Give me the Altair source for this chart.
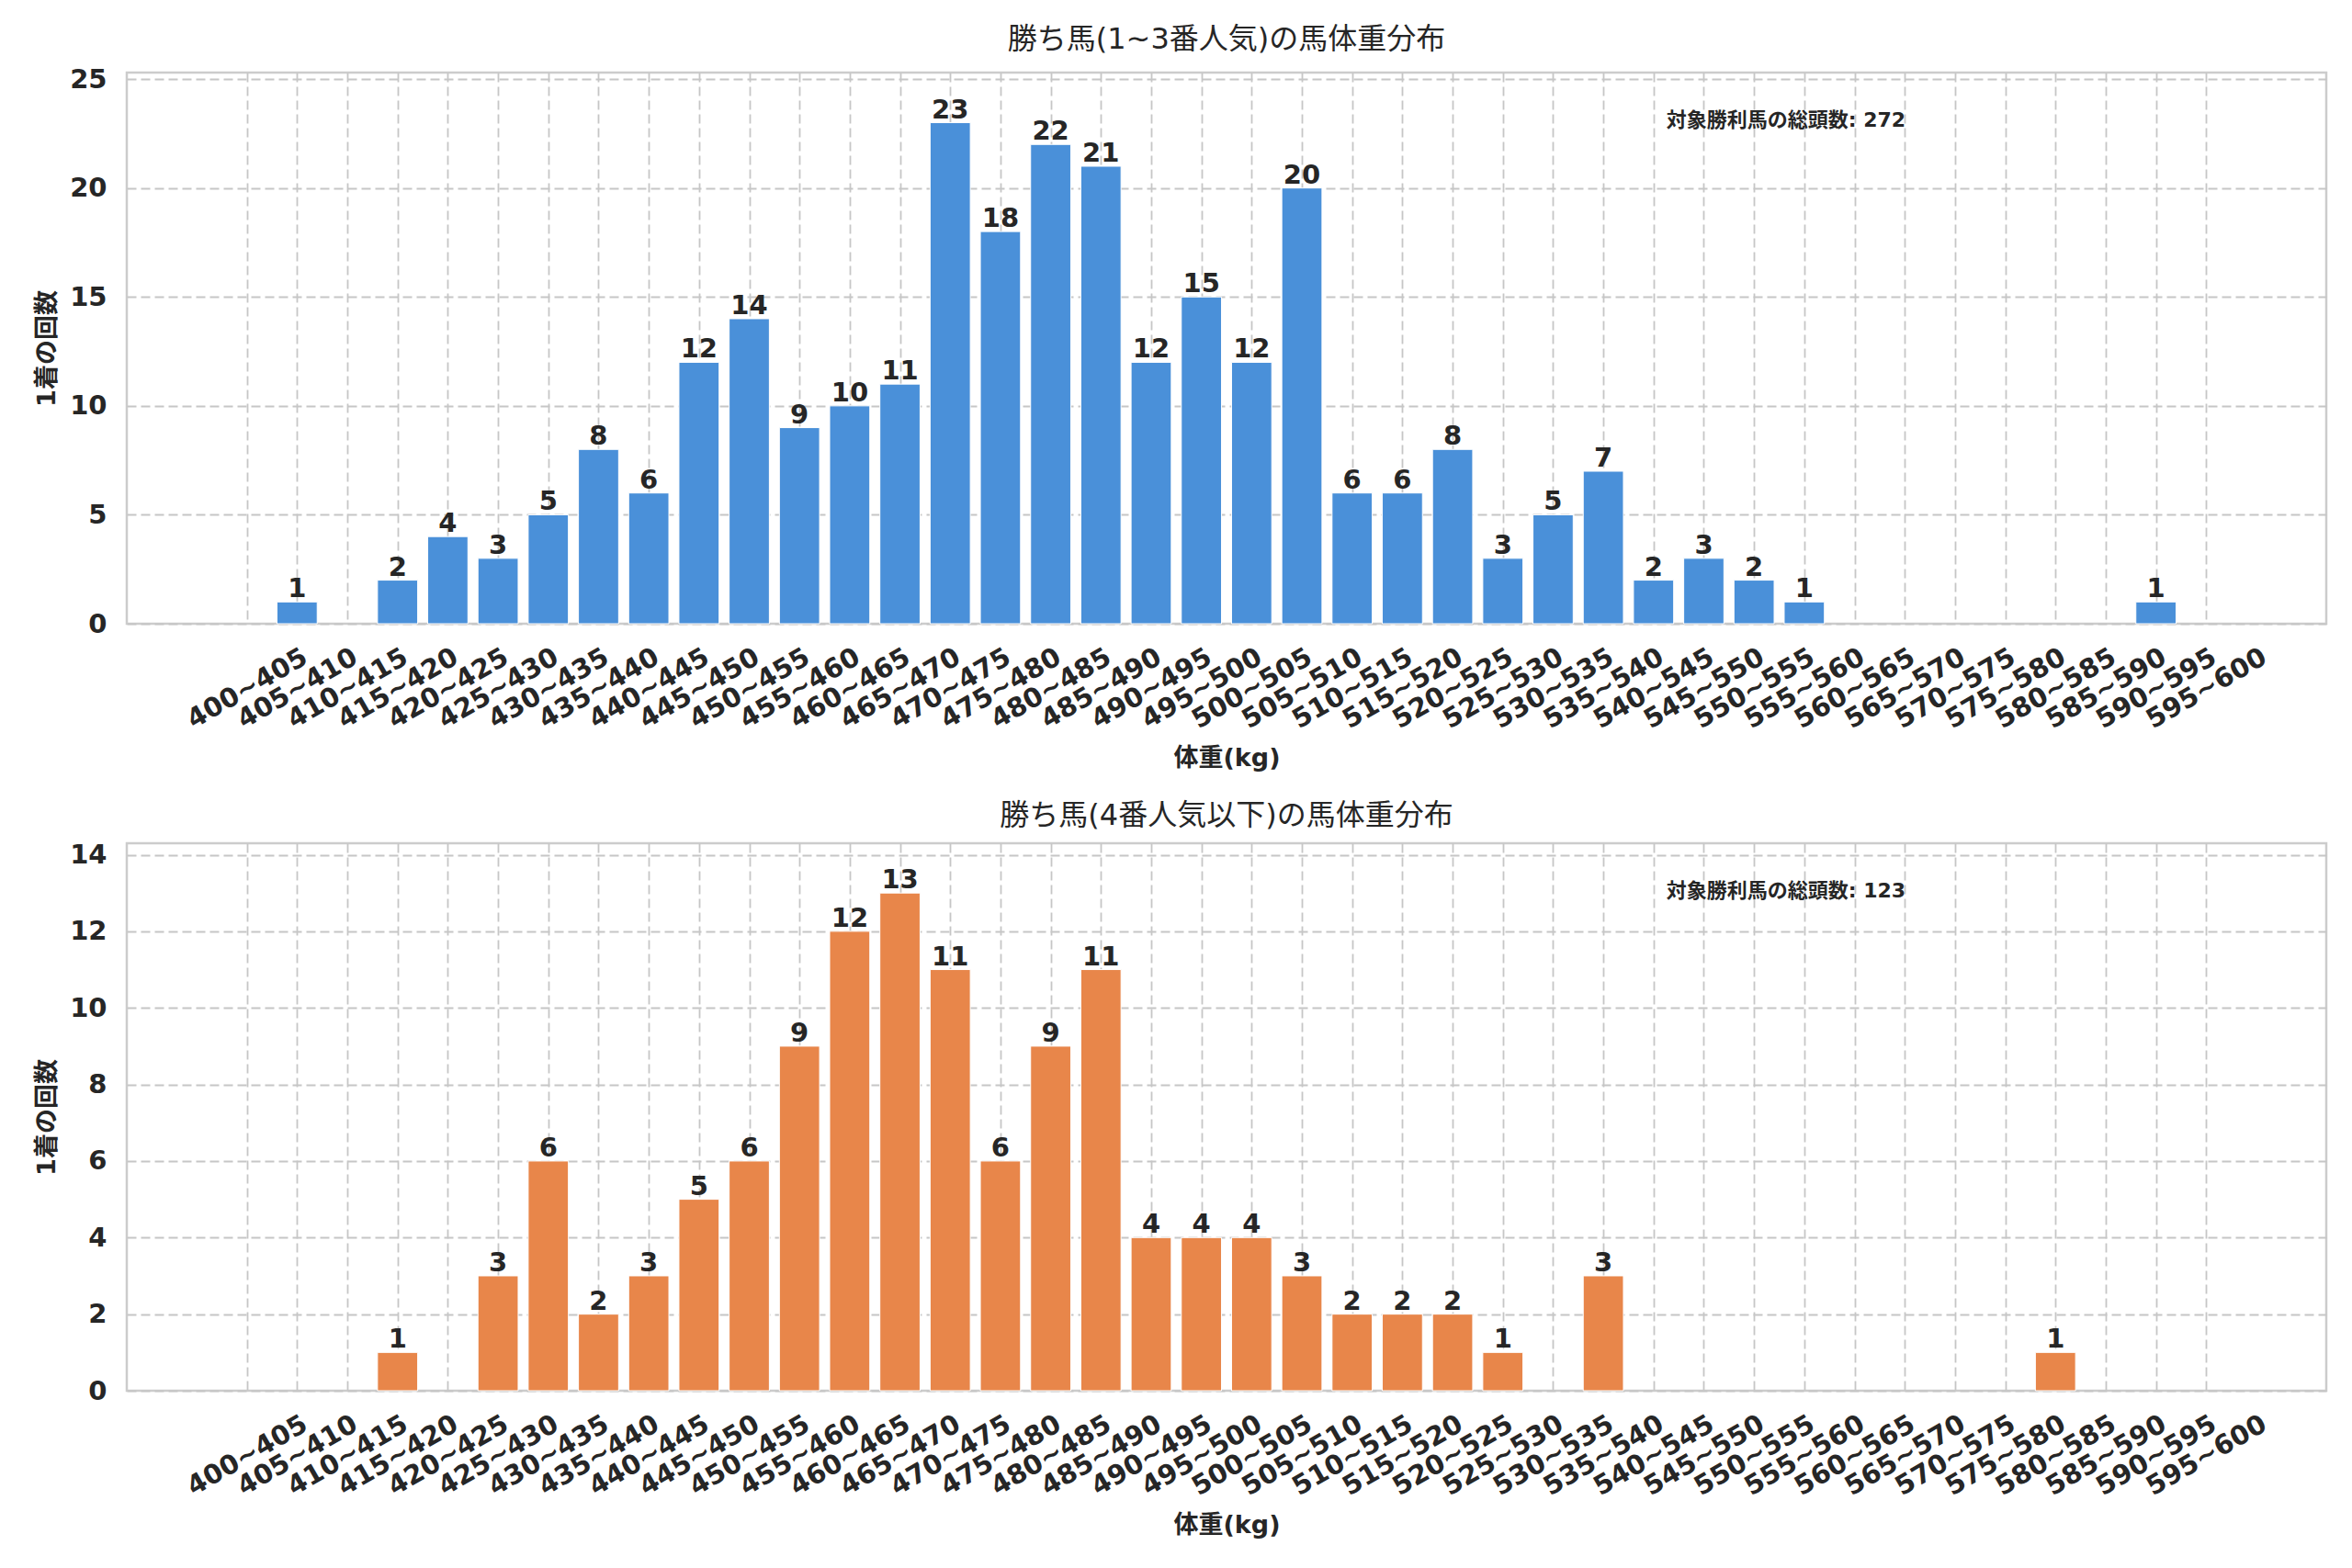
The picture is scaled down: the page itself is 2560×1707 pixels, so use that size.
import altair as alt
import pandas as pd

weight_bins = [
    "400~405", "405~410", "410~415", "415~420", "420~425", "425~430", "430~435", "435~440",
    "440~445", "445~450", "450~455", "455~460", "460~465", "465~470", "470~475", "475~480",
    "480~485", "485~490", "490~495", "495~500", "500~505", "505~510", "510~515", "515~520",
    "520~525", "525~530", "530~535", "535~540", "540~545", "545~550", "550~555", "555~560",
    "560~565", "565~570", "570~575", "575~580", "580~585", "585~590", "590~595", "595~600",
]
# 1~3番人気の勝ち馬
top_counts = [0, 1, 0, 2, 4, 3, 5, 8, 6, 12,
              14, 9, 10, 11, 23, 18, 22, 21, 12, 15,
              12, 20, 6, 6, 8, 3, 5, 7, 2, 3,
              2, 1, 0, 0, 0, 0, 0, 0, 1, 0]
# 4番人気以下の勝ち馬
bottom_counts = [0, 0, 0, 1, 0, 3, 6, 2, 3, 5,
                 6, 9, 12, 13, 11, 6, 9, 11, 4, 4,
                 4, 3, 2, 2, 2, 1, 0, 3, 0, 0,
                 0, 0, 0, 0, 0, 0, 1, 0, 0, 0]

top_title = "勝ち馬(1~3番人気)の馬体重分布"
bottom_title = "勝ち馬(4番人気以下)の馬体重分布"
x_title = "体重(kg)"
y_title = "1着の回数"
total_label = "対象勝利馬の総頭数"

FONT = "DejaVu Sans, Noto Sans CJK JP"
TEXT = "#262626"
W = 2394
X_DOMAIN = [-2.39, 41.39]

label_expr = "[" + ",".join(f"'{b}'" for b in weight_bins) + "][datum.value]"


def panel(counts, color, title, ymax, ystep, height):
    df = pd.DataFrame({"idx": list(range(len(weight_bins))), "bin": weight_bins, "count": counts})
    df["x0"] = df["idx"] - 0.4
    df["x1"] = df["idx"] + 0.4
    df = df[df["count"] > 0]

    x_axis = alt.Axis(values=list(range(len(weight_bins))), labelExpr=label_expr,
                      title=x_title, labelOverlap=False, labelBound=False, labelFlush=False)
    x_scale = alt.Scale(domain=X_DOMAIN, nice=False, zero=False)
    y_enc = alt.Y("count:Q", scale=alt.Scale(domain=[0, ymax], nice=False),
                  axis=alt.Axis(values=list(range(0, int(ymax) + 1, ystep)), title=y_title))

    bars = alt.Chart(df).mark_bar(color=color, stroke="white", strokeWidth=1).encode(
        x=alt.X("x0:Q", scale=x_scale, axis=x_axis),
        x2="x1:Q",
        y=y_enc,
        y2=alt.datum(0),
    )
    labels = alt.Chart(df).mark_text(
        baseline="bottom", dy=1, font=FONT, fontSize=29, fontWeight="bold", color=TEXT
    ).encode(
        x=alt.X("idx:Q", scale=x_scale, axis=x_axis),
        y=y_enc,
        text="count:Q",
    )
    total = alt.Chart(pd.DataFrame({"t": [f"{total_label}: {sum(counts)}"]})).mark_text(
        align="left", baseline="middle", font=FONT, fontSize=22, fontWeight="bold", color=TEXT
    ).encode(x=alt.value(0.70 * W), y=alt.value(52), text="t:N")

    return (bars + labels + total).properties(
        width=W, height=height,
        title=alt.TitleParams(title, fontSize=32, fontWeight="normal", offset=12),
    )


top = panel(top_counts, "#4a90d9", top_title, 25.3, 5, 600)
bottom = panel(bottom_counts, "#e8864a", bottom_title, 14.3, 2, 596)

chart = alt.vconcat(top, bottom, spacing=30).properties(
    padding={"left": 28, "top": 17, "right": 10, "bottom": 10}
).configure_axis(
    grid=True, gridColor="#c6c6c6", gridDash=[10, 5], gridWidth=1.8,
    domain=False, ticks=False,
    labelFont=FONT, labelFontSize=29, labelFontWeight="bold", labelColor=TEXT, labelPadding=22,
    titleFont=FONT, titleFontSize=27, titleFontWeight="bold", titleColor=TEXT, titlePadding=10,
).configure_axisX(
    labelAngle=330, labelAlign="center", labelBaseline="middle", labelPadding=70, titlePadding=14,
).configure_view(
    stroke="#cccccc", strokeWidth=2.5
).configure_title(
    font=FONT, color=TEXT, anchor="middle"
)

chart.save("out.html", embed_options={"renderer": "svg", "actions": False})
